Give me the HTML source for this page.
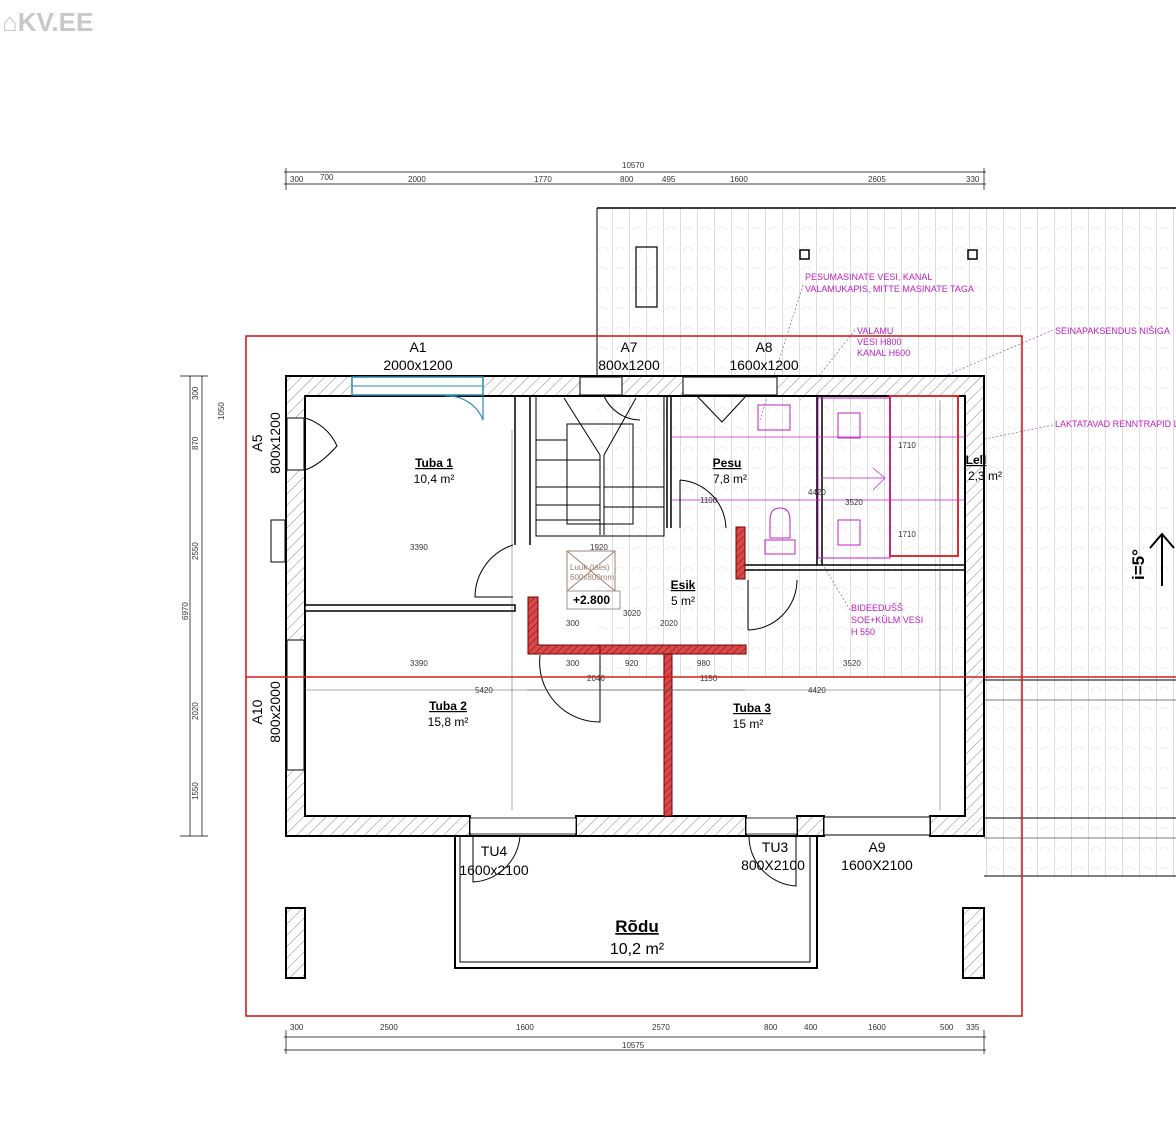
<!DOCTYPE html>
<html><head><meta charset="utf-8"><style>
html,body{margin:0;padding:0;background:#fff}
svg{display:block}
text{font-family:"Liberation Sans",sans-serif}
</style></head><body>
<svg width="1176" height="1140" viewBox="0 0 1176 1140" xmlns="http://www.w3.org/2000/svg">
<defs>
<pattern id="h" width="8" height="8" patternUnits="userSpaceOnUse" patternTransform="rotate(45)">
<rect width="8" height="8" fill="#fff"/><line x1="0" y1="0" x2="0" y2="8" stroke="#555" stroke-width="0.7"/></pattern>
<pattern id="rh" width="5" height="5" patternUnits="userSpaceOnUse" patternTransform="rotate(45)">
<rect width="5" height="5" fill="#d84a4a"/><line x1="0" y1="0" x2="0" y2="5" stroke="#8a1010" stroke-width="1.2"/></pattern>
<pattern id="roof" width="17" height="20" patternUnits="userSpaceOnUse">
<rect width="17" height="20" fill="#fff"/><line x1="0.5" y1="0" x2="0.5" y2="20" stroke="#ddd" stroke-width="1"/>
<path d="M3 10 q5 -6 10 0" stroke="#eee" fill="none"/></pattern>
</defs>
<text x="2" y="31" font-size="26" font-weight="bold" fill="#c8c8c8">⌂KV.EE</text>

<rect x="597" y="208" width="579" height="470" fill="url(#roof)"/>
<line x1="597" y1="208" x2="1176" y2="208" stroke="#000" stroke-width="1.5"/>
<line x1="597" y1="208" x2="597" y2="376" stroke="#000" stroke-width="1"/>
<rect x="984" y="678" width="192" height="198" fill="url(#roof)"/>
<line x1="984" y1="680" x2="1176" y2="680" stroke="#000"/>
<line x1="984" y1="700" x2="1176" y2="700" stroke="#000" stroke-width=".6"/>
<line x1="984" y1="818" x2="1176" y2="818" stroke="#000"/>
<line x1="984" y1="838" x2="1176" y2="838" stroke="#000" stroke-width=".6"/>
<line x1="984" y1="876" x2="1176" y2="876" stroke="#000"/>
<rect x="636" y="247" width="21" height="60" fill="none" stroke="#000" stroke-width="1.2"/>
<rect x="800" y="250" width="9" height="9" fill="none" stroke="#000" stroke-width="1.5"/>
<rect x="968" y="250" width="9" height="9" fill="none" stroke="#000" stroke-width="1.5"/>
<g fill="#c020c0" font-size="9">
<text x="805" y="280">PESUMASINATE VESI, KANAL</text>
<text x="805" y="292">VALAMUKAPIS, MITTE MASINATE TAGA</text>
<text x="857" y="334">VALAMU</text><text x="857" y="345">VESI H800</text><text x="857" y="356">KANAL H600</text>
<text x="1055" y="334">SEINAPAKSENDUS NIŠIGA</text>
<text x="1055" y="427">LAKTATAVAD RENNTRAPID LE</text>
<text x="851" y="611">BIDEEDUŠŠ</text><text x="851" y="623">SOE+KÜLM VESI</text><text x="851" y="635">H 550</text>
</g>
<g stroke="#8040a0" stroke-width=".6" stroke-dasharray="2,2" fill="none">
<path d="M803 285 L760 420"/><path d="M855 330 L800 400"/><path d="M1053 330 L900 395"/><path d="M1053 425 L980 440"/><path d="M850 610 L820 560"/>
</g>

<g stroke="#000" stroke-width=".7" fill="none">
<line x1="284" y1="172" x2="986" y2="172"/><line x1="284" y1="184" x2="986" y2="184"/>
<line x1="286" y1="168" x2="286" y2="190"/><line x1="984" y1="168" x2="984" y2="190"/>
<line x1="284" y1="1037" x2="986" y2="1037"/><line x1="284" y1="1050" x2="986" y2="1050"/>
<line x1="286" y1="1030" x2="286" y2="1054"/><line x1="984" y1="1030" x2="984" y2="1054"/>
<line x1="190" y1="376" x2="190" y2="836"/><line x1="202" y1="376" x2="202" y2="836"/>
<line x1="180" y1="376" x2="208" y2="376"/><line x1="180" y1="836" x2="208" y2="836"/>
</g>
<g font-size="8" fill="#333">
<text x="622" y="168">10570</text>
<text x="290" y="182">300</text><text x="320" y="180">700</text><text x="408" y="182">2000</text><text x="534" y="182">1770</text><text x="620" y="182">800</text><text x="662" y="182">495</text><text x="730" y="182">1600</text><text x="868" y="182">2605</text><text x="966" y="182">330</text>
<text x="290" y="1030">300</text><text x="380" y="1030">2500</text><text x="516" y="1030">1600</text><text x="652" y="1030">2570</text><text x="764" y="1030">800</text><text x="804" y="1030">400</text><text x="868" y="1030">1600</text><text x="940" y="1030">500</text><text x="966" y="1030">335</text>
<text x="622" y="1048">10575</text>
</g>
<g font-size="8" fill="#333">
<text transform="translate(188,620) rotate(-90)">6970</text>
<text transform="translate(198,400) rotate(-90)">300</text><text transform="translate(198,450) rotate(-90)">870</text><text transform="translate(198,560) rotate(-90)">2550</text><text transform="translate(198,720) rotate(-90)">2020</text><text transform="translate(198,800) rotate(-90)">1550</text><text transform="translate(224,420) rotate(-90)">1050</text>
</g>

<path fill="url(#h)" stroke="#000" stroke-width="2" fill-rule="evenodd"
 d="M286 376 H984 V836 H930 V816 H965 V396 H305 V816 H470 V836 H286 Z"/>
<rect x="576" y="816" width="170" height="20" fill="url(#h)" stroke="#000" stroke-width="2"/>
<rect x="797" y="816" width="27" height="20" fill="url(#h)" stroke="#000" stroke-width="2"/>
<rect x="352" y="377" width="131" height="18" fill="#fff" stroke="#2a8ab0" stroke-width="1.5"/>
<line x1="352" y1="386" x2="483" y2="386" stroke="#2a8ab0"/>
<path d="M445 396 A38 38 0 0 1 483 420 L483 396" fill="none" stroke="#2a8ab0" stroke-width="1.2"/>
<rect x="580" y="377" width="42" height="18" fill="#fff" stroke="#000"/>
<rect x="683" y="377" width="94" height="18" fill="#fff" stroke="#000"/>
<rect x="287" y="418" width="17" height="52" fill="#fff" stroke="#000"/>
<path d="M305 418 A50 50 0 0 1 337 446 Q320 465 305 470" fill="none" stroke="#000"/>
<rect x="271" y="520" width="14" height="42" fill="#fff" stroke="#000"/>
<rect x="287" y="640" width="17" height="130" fill="#fff" stroke="#000"/>
<rect x="824" y="817" width="106" height="18" fill="#fff" stroke="#000"/>
<rect x="470" y="818" width="106" height="16" fill="#fff" stroke="#000" stroke-width=".8"/>
<rect x="746" y="818" width="51" height="16" fill="#fff" stroke="#000" stroke-width=".8"/>
<path d="M473 836 L473 882 A50 50 0 0 0 520 836" fill="none" stroke="#000"/>
<path d="M749 836 A50 50 0 0 0 796 886 L796 836" fill="none" stroke="#000"/>

<g stroke="#000" stroke-width="1.5" fill="none">
<rect x="305" y="605" width="210" height="6" fill="#fff"/>
<line x1="515" y1="396" x2="515" y2="545"/><line x1="530" y1="396" x2="530" y2="545"/>
<line x1="667" y1="396" x2="667" y2="528"/><line x1="671" y1="396" x2="671" y2="528"/>
<line x1="817" y1="396" x2="817" y2="565"/><line x1="822" y1="396" x2="822" y2="565"/>
<line x1="745" y1="565" x2="965" y2="565"/><line x1="745" y1="570" x2="965" y2="570"/>
</g>
<g stroke="#000" stroke-width="1" fill="none">
<rect x="536" y="396" width="128" height="140"/>
<rect x="567" y="424" width="66" height="100"/>
<line x1="600" y1="455" x2="600" y2="535"/><line x1="604" y1="455" x2="604" y2="535"/>
<line x1="536" y1="487" x2="600" y2="487"/><line x1="536" y1="505" x2="600" y2="505"/><line x1="536" y1="520" x2="600" y2="520"/>
<line x1="536" y1="460" x2="600" y2="460"/><line x1="604" y1="487" x2="664" y2="487"/><line x1="604" y1="507" x2="664" y2="507"/>
<line x1="564" y1="398" x2="600" y2="455"/><line x1="636" y1="398" x2="604" y2="455"/><line x1="536" y1="440" x2="567" y2="440"/>
<path d="M604 396 A40 40 0 0 0 640 420"/><path d="M697 396 L722 422 L746 396"/>
</g>
<rect x="890" y="396" width="68" height="160" fill="none" stroke="#d83030" stroke-width="2"/>
<rect x="818" y="398" width="72" height="160" fill="none" stroke="#c020c0" stroke-width="1"/>
<rect x="758" y="405" width="32" height="25" fill="none" stroke="#c020c0"/>
<rect x="838" y="413" width="22" height="25" fill="none" stroke="#c020c0"/>
<rect x="838" y="520" width="22" height="25" fill="none" stroke="#c020c0"/>
<path d="M770 520 q0 -12 10 -12 q10 0 10 12 v18 h-20 Z" fill="none" stroke="#c020c0"/>
<rect x="765" y="540" width="30" height="14" fill="none" stroke="#c020c0"/>
<g stroke="#c020c0" stroke-width=".7" fill="none"><line x1="672" y1="437" x2="965" y2="437"/><line x1="672" y1="500" x2="965" y2="500"/><line x1="821" y1="478" x2="885" y2="478"/><path d="M873 468 L885 478 L873 490"/></g>
<path d="M680 480 A50 50 0 0 1 726 528" fill="none" stroke="#000"/>
<line x1="680" y1="480" x2="680" y2="528" stroke="#000"/>

<path fill="url(#rh)" stroke="#700" stroke-width="1" d="M528 597 H538 V645 H600 V654 H528 Z"/>
<path fill="url(#rh)" stroke="#700" stroke-width="1" d="M600 645 H746 V654 H600 Z"/>
<rect x="736" y="527" width="9" height="52" fill="url(#rh)" stroke="#700"/>
<rect x="664" y="654" width="8" height="162" fill="url(#rh)" stroke="#700"/>
<path d="M513 545 A55 55 0 0 0 475 597 L513 597" fill="none" stroke="#000"/>
<path d="M748 630 A50 50 0 0 0 797 580" fill="none" stroke="#000"/><line x1="748" y1="580" x2="748" y2="630" stroke="#000"/>
<path d="M540 655 A60 60 0 0 0 600 722 L600 655" fill="none" stroke="#000"/>
<rect x="567" y="551" width="48" height="40" fill="none" stroke="#a08070"/>
<path d="M567 551 L615 591 M615 551 L567 591" stroke="#a08070"/>
<text x="570" y="570" font-size="8" fill="#a08070">Luuk (laes)</text><text x="570" y="580" font-size="8" fill="#a08070">600x800mm</text>
<rect x="567" y="591" width="53" height="18" fill="none" stroke="#999"/>
<text x="573" y="604" font-size="12" font-weight="bold">+2.800</text>

<g stroke="#555" stroke-width=".5"><line x1="305" y1="690" x2="965" y2="690"/><line x1="512" y1="430" x2="512" y2="810"/><line x1="940" y1="400" x2="940" y2="810"/><line x1="527" y1="690" x2="745" y2="690"/></g>
<g font-size="8" fill="#333">
<text x="410" y="550">3390</text><text x="410" y="666">3390</text><text x="475" y="693">5420</text><text x="808" y="693">4420</text><text x="843" y="666">3520</text>
<text x="590" y="550">1920</text><text x="623" y="616">3020</text><text x="660" y="626">2020</text><text x="566" y="626">300</text><text x="566" y="666">300</text><text x="625" y="666">920</text><text x="697" y="666">980</text><text x="700" y="503">1100</text><text x="808" y="495">4420</text><text x="845" y="505">3520</text><text x="898" y="448">1710</text><text x="898" y="537">1710</text><text x="700" y="681">1150</text><text x="587" y="681">2046</text>
</g>

<rect x="455" y="836" width="362" height="132" fill="none" stroke="#000" stroke-width="2"/>
<rect x="460" y="836" width="350" height="126" fill="none" stroke="#000" stroke-width="1"/>
<rect x="286" y="908" width="19" height="70" fill="url(#h)" stroke="#000" stroke-width="2"/>
<rect x="963" y="908" width="21" height="70" fill="url(#h)" stroke="#000" stroke-width="2"/>

<rect x="246" y="336" width="776" height="680" fill="none" stroke="#d02020" stroke-width="1.6"/>
<line x1="246" y1="677" x2="1176" y2="677" stroke="#d02020" stroke-width="1.6"/>

<g font-size="14" fill="#000" text-anchor="middle">
<text x="418" y="352">A1</text><text x="418" y="370">2000x1200</text>
<text x="629" y="352">A7</text><text x="629" y="370">800x1200</text>
<text x="764" y="352">A8</text><text x="764" y="370">1600x1200</text>
<text x="877" y="852">A9</text><text x="877" y="870">1600X2100</text>
<text x="775" y="852">TU3</text><text x="773" y="870">800X2100</text>
<text x="494" y="856">TU4</text><text x="494" y="875">1600x2100</text>
<text transform="translate(262,443) rotate(-90)">A5</text><text transform="translate(280,443) rotate(-90)">800x1200</text>
<text transform="translate(262,712) rotate(-90)">A10</text><text transform="translate(280,712) rotate(-90)">800x2000</text>
</g>
<g font-size="12" text-anchor="middle">
<text x="434" y="467" font-weight="bold" text-decoration="underline">Tuba 1</text><text x="434" y="483">10,4 m²</text>
<text x="448" y="710" font-weight="bold" text-decoration="underline">Tuba 2</text><text x="448" y="726">15,8 m²</text>
<text x="752" y="712" font-weight="bold" text-decoration="underline">Tuba 3</text><text x="748" y="728">15 m²</text>
<text x="727" y="467" font-weight="bold" text-decoration="underline">Pesu</text><text x="730" y="483">7,8 m²</text>
<text x="683" y="589" font-weight="bold" text-decoration="underline">Esik</text><text x="683" y="605">5 m²</text>
<text x="976" y="464" font-weight="bold" text-decoration="underline">Lell</text><text x="985" y="480">2,3 m²</text>
</g>
<text x="637" y="932" font-size="17" font-weight="bold" text-anchor="middle" text-decoration="underline">Rõdu</text>
<text x="637" y="954" font-size="16" text-anchor="middle">10,2 m²</text>
<text transform="translate(1144,580) rotate(-90)" font-size="17" font-weight="bold">i=5°</text>
<path d="M1162 586 V534 M1150 548 L1162 534 L1174 548" stroke="#000" stroke-width="2" fill="none"/>
</svg>
</body></html>
